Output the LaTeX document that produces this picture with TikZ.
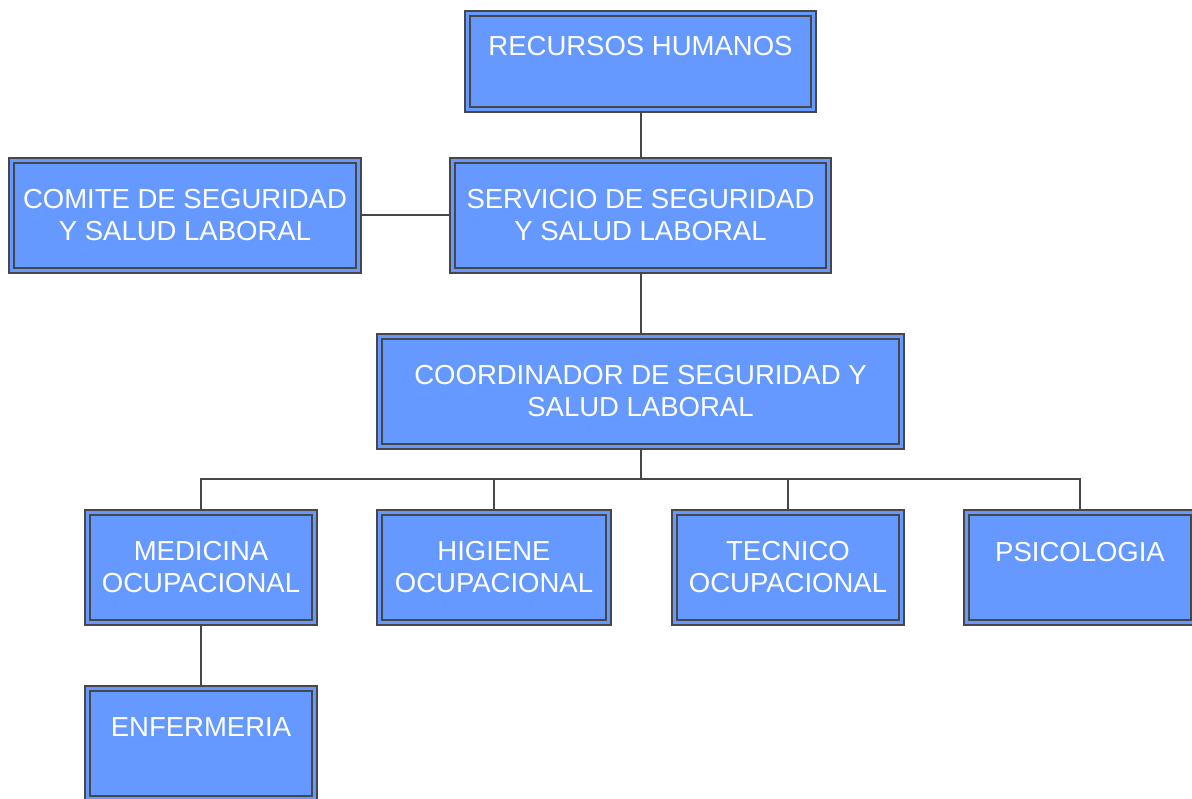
\documentclass[tikz,border=0pt]{standalone}
\usepackage{fontspec}
\setmainfont{Liberation Sans}
\usetikzlibrary{backgrounds}
\definecolor{boxblue}{HTML}{6699FF}
\definecolor{edgegray}{HTML}{474747}
\tikzset{
  orgbox/.style={rectangle, draw=edgegray, line width=2pt, double=boxblue,
    double distance=3pt, fill=boxblue, text=white, align=center,
    inner sep=0pt, outer sep=0pt,
    font=\fontsize{27.5}{32}\selectfont},
  link/.style={draw=edgegray, line width=2pt}
}
\begin{document}
\begin{tikzpicture}[x=1pt,y=-1pt]
\useasboundingbox (0,0) rectangle (1192,799);
\node[orgbox, minimum width=346pt, minimum height=96pt] (rh) at (640.5,61.5) {RECURSOS HUMANOS\\\mbox{}};
\node[orgbox, minimum width=347pt, minimum height=110pt] (com) at (185,215.5) {COMITE DE SEGURIDAD\\Y SALUD LABORAL};
\node[orgbox, minimum width=376pt, minimum height=110pt] (serv) at (640.5,215.5) {SERVICIO DE SEGURIDAD\\Y SALUD LABORAL};
\node[orgbox, minimum width=522pt, minimum height=110pt] (coord) at (640.5,391.5) {COORDINADOR DE SEGURIDAD Y\\SALUD LABORAL};
\node[orgbox, minimum width=227pt, minimum height=110pt] (med) at (201,567.5) {MEDICINA\\OCUPACIONAL};
\node[orgbox, minimum width=229pt, minimum height=110pt] (hig) at (494,567.5) {HIGIENE\\OCUPACIONAL};
\node[orgbox, minimum width=227pt, minimum height=110pt] (tec) at (788,567.5) {TECNICO\\OCUPACIONAL};
\node[orgbox, minimum width=227pt, minimum height=110pt] (psi) at (1080,567.5) {PSICOLOGIA\\\mbox{}};
\node[orgbox, minimum width=227pt, minimum height=110pt] (enf) at (201,743.5) {ENFERMERIA\\\mbox{}};
\coordinate (bus) at (640.5,479);
\begin{scope}[on background layer]
\draw[link] (rh.south) -- (serv.north);
\draw[link] (com.east) -- (serv.west);
\draw[link] (serv.south) -- (coord.north);
\draw[link] (coord.south) -- (bus);
\draw[link] (med.north) |- (bus);
\draw[link] (hig.north) |- (bus);
\draw[link] (tec.north) |- (bus);
\draw[link] (psi.north) |- (bus);
\draw[link] (med.south) -- (enf.north);
\end{scope}
\end{tikzpicture}
\end{document}
